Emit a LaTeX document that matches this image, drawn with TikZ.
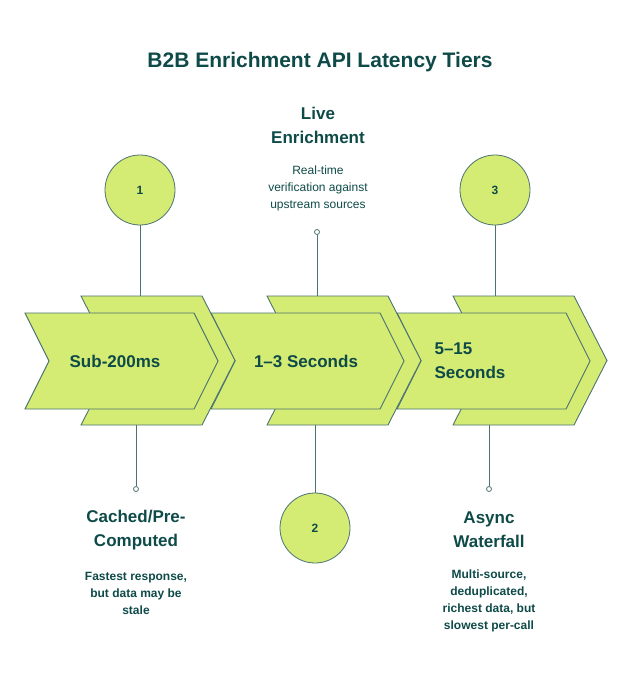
\documentclass[tikz,border=0pt]{standalone}
\usepackage{fontspec}
\setmainfont{Liberation Sans}
\definecolor{ink}{HTML}{0E4A48}
\definecolor{lime}{HTML}{D4EC74}
\definecolor{edge}{HTML}{4D7272}
\begin{document}
\begin{tikzpicture}[x=1pt, y=-1pt,
  chev/.style={fill=lime, draw=edge, line width=0.9pt, line join=miter},
  dot/.style={circle, draw=edge, fill=white, inner sep=0pt, minimum size=5pt, line width=0.8pt},
  tierNum/.style={circle, fill=lime, draw=edge, line width=0.8pt, minimum size=70pt, inner sep=0pt, font=\fontsize{12}{14}\selectfont\bfseries, text=ink},
  head/.style={align=center, text=ink, font=\fontsize{17}{24}\selectfont\bfseries},
  note/.style={align=center, text=ink, font=\fontsize{12}{17}\selectfont},
  link/.style={draw=edge, line width=0.8pt}]
\useasboundingbox (0,0) rectangle (640,685);
\node[text=ink, font=\fontsize{21}{24}\selectfont\bfseries] (title) at (320,62) {B2B Enrichment API Latency Tiers};

% chevrons, drawn right to left
\foreach \i in {2,1,0}{
  \pgfmathsetmacro{\x}{25+186*\i}
  \pgfmathsetmacro{\bx}{81+186*\i}
  \draw[chev] (\bx,296) -- ++(121,0) -- ++(33,64.5) -- ++(-33,64.5) -- ++(-121,0) -- ++(33,-64.5) -- cycle;
  \draw[chev] (\x,313) -- ++(169,0) -- ++(24,48) -- ++(-24,48) -- ++(-169,0) -- ++(24,-48) -- cycle;
}
\node[head] (t1) at (115,361) {Sub-200ms};
\node[head] (t2) at (306,361) {1–3 Seconds};
\node[head, align=left] (t3) at (470,361) {5–15\\Seconds};

\coordinate (top1) at (140,296);
\coordinate (top2) at (317,296);
\coordinate (top3) at (495,296);
\coordinate (bot1) at (136,425);
\coordinate (bot2) at (315,425);
\coordinate (bot3) at (489,425);

\node[tierNum] (c1) at (140,190) {1};
\node[tierNum] (c3) at (495,190) {3};
\node[tierNum] (c2) at (315,528) {2};
\node[dot] (d2) at (317,232) {};
\node[dot] (d1) at (136,489) {};
\node[dot] (d3) at (489,489) {};

\draw[link] (c1) -- (top1);
\draw[link] (c3) -- (top3);
\draw[link] (d2) -- (top2);
\draw[link] (bot1) -- (d1);
\draw[link] (bot2) -- (c2);
\draw[link] (bot3) -- (d3);

\node[head] (h2) at (318,125) {Live\\Enrichment};
\node[note] (n2) at (318,188) {Real-time\\verification against\\upstream sources};
\node[head] (h1) at (136,530) {Cached/Pre-\\Computed};
\node[note, font=\fontsize{12}{17}\selectfont\bfseries] (n1) at (136,593) {Fastest response,\\but data may be\\stale};
\node[head] (h3) at (489,530) {Async\\Waterfall};
\node[note, font=\fontsize{12}{17}\selectfont\bfseries] (n3) at (489,601) {Multi-source,\\deduplicated,\\richest data, but\\slowest per-call};
\end{tikzpicture}
\end{document}
